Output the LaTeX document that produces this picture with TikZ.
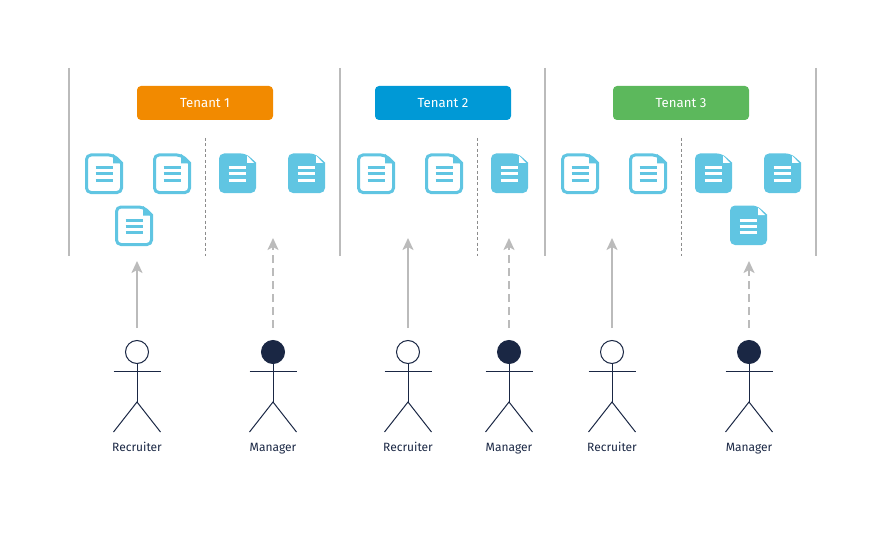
\documentclass[tikz,border=0pt]{standalone}
\usepackage{fontspec}
\setmainfont{Fira Sans}
\usetikzlibrary{arrows.meta}
\definecolor{docblue}{HTML}{60C5E2}
\definecolor{navy}{HTML}{1A2744}
\definecolor{wallgray}{HTML}{BBBBBB}
\definecolor{tenantorange}{HTML}{F28A00}
\definecolor{tenantblue}{HTML}{0099D6}
\definecolor{tenantgreen}{HTML}{5CB85C}
\tikzset{
	tenant/.style={rounded corners=4pt, minimum width=136pt, minimum height=34pt, inner sep=0pt, text=white, font=\fontsize{13.2}{15}\selectfont},
	wall/.style={line width=2.5pt, color=wallgray},
	divider/.style={line width=0.7pt, color=black!45, dash pattern=on 3pt off 2.5pt},
	limb/.style={line width=1pt, color=navy},
	access/.style={line width=2.5pt, color=wallgray, -{Stealth[length=12pt,width=11pt,inset=3pt]}, shorten <=12pt},
	partial/.style={access, dash pattern=on 8pt off 5pt},
	caption/.style={inner sep=0pt, anchor=base, text=navy, font=\fontsize{12}{14}\selectfont}
}
% (x,y) = top left corner of the sheet
\def\docoutline(#1,#2){
	\draw[line width=3pt, color=docblue, fill=white, rounded corners=4.5pt] (#1+1,#2+2) -- (#1+28,#2+2) [sharp corners] -- (#1+36,#2+10) [rounded corners=4.5pt] -- (#1+36,#2+39.5) -- (#1+1,#2+39.5) -- cycle;
	\fill[docblue] (#1+27.5,#2+1) -- (#1+37,#2+10.5) -- (#1+27.5,#2+10.5) -- cycle;
	\draw[line width=3pt, color=docblue] (#1+10,#2+15) -- (#1+27,#2+15) (#1+10,#2+21) -- (#1+27,#2+21) (#1+10,#2+27) -- (#1+27,#2+27);
}
\def\docfilled(#1,#2){
	\fill[docblue, rounded corners=5pt] (#1,#2+0.5) -- (#1+27,#2+0.5) [sharp corners] -- (#1+37,#2+9.5) [rounded corners=5pt] -- (#1+37,#2+40) -- (#1,#2+40) -- cycle;
	\fill[white] (#1+28,#2+2.5) -- (#1+35,#2+10) -- (#1+28,#2+10) -- cycle;
	\draw[line width=3pt, color=white] (#1+9.5,#2+15) -- (#1+27,#2+15) (#1+9.5,#2+21) -- (#1+27,#2+21) (#1+9.5,#2+27) -- (#1+27,#2+27);
}
% name, x of the axis, head fill, label
\def\actor#1#2#3#4{
	\node[circle, draw=navy, line width=1pt, fill=#3, minimum size=23pt, inner sep=0pt] (#1) at (#2,352) {};
	\coordinate (#1hip) at (#2,402);
	\draw[limb] (#1.south) -- (#1hip);
	\draw[limb] (#2-23.5,371) -- (#2+23.5,371);
	\draw[limb] (#2-23.5,432) -- (#1hip) -- (#2+23.5,432);
	\node[caption] (#1label) at (#2,451) {#4};
}

\begin{document}
\begin{tikzpicture}[x=1pt, y=-1pt]
	\useasboundingbox (0,0) rectangle (885,540);
	
	\draw[wall] (69,68) -- (69,256);
	\draw[wall] (340,68) -- (340,256);
	\draw[wall] (545,68) -- (545,256);
	\draw[wall] (816,68) -- (816,256);
	
	\draw[divider] (205,138) -- (205,256);
	\draw[divider] (477,138) -- (477,256);
	\draw[divider] (681,138) -- (681,256);
	
	\node[tenant, fill=tenantorange] (tenant1) at (205,103) {Tenant 1};
	\node[tenant, fill=tenantblue] (tenant2) at (443,103) {Tenant 2};
	\node[tenant, fill=tenantgreen] (tenant3) at (681,103) {Tenant 3};
	
	\docoutline(85.5,153)
	\docoutline(153.5,153)
	\docoutline(115.5,205)
	\docfilled(219,153)
	\docfilled(288,153)
	
	\docoutline(357.5,153)
	\docoutline(425.5,153)
	\docfilled(491,153)
	
	\docoutline(561.5,153)
	\docoutline(629.5,153)
	\docfilled(695,153)
	\docfilled(764,153)
	\docfilled(730,205)
	
	\actor{recruiter1}{137}{white}{Recruiter}
	\actor{manager1}{273}{navy}{Manager}
	\actor{recruiter2}{408}{white}{Recruiter}
	\actor{manager2}{509}{navy}{Manager}
	\actor{recruiter3}{612}{white}{Recruiter}
	\actor{manager3}{749}{navy}{Manager}
	
	\coordinate (tip1) at (137,261);
	\coordinate (tip2) at (273,238);
	\coordinate (tip3) at (408,238);
	\coordinate (tip4) at (509,238);
	\coordinate (tip5) at (612,238);
	\coordinate (tip6) at (749,261);
	
	\draw[access] (recruiter1.north) -- (tip1);
	\draw[partial] (manager1.north) -- (tip2);
	\draw[access] (recruiter2.north) -- (tip3);
	\draw[partial] (manager2.north) -- (tip4);
	\draw[access] (recruiter3.north) -- (tip5);
	\draw[partial] (manager3.north) -- (tip6);
\end{tikzpicture}
\end{document}
